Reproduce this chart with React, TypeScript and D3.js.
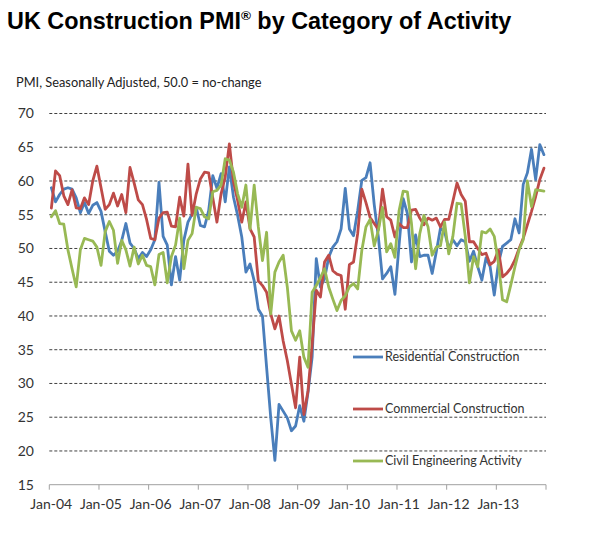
import React from "react";
import * as d3 from "d3";

const yearLabels = ["Jan-04","Jan-05","Jan-06","Jan-07","Jan-08","Jan-09","Jan-10","Jan-11","Jan-12","Jan-13"];
const yTicks = [15,20,25,30,35,40,45,50,55,60,65,70];

const residential = [
  59.0,56.9,58.0,58.8,59.0,58.8,57.5,55.3,56.8,55.2,56.4,56.8,
  55.5,52.5,49.6,49.0,49.6,51.2,53.7,50.8,50.0,48.5,49.4,48.8,
  49.8,51.3,59.8,51.8,50.5,44.6,48.8,45.3,51.2,53.9,55.1,56.1,
  53.4,53.2,55.6,60.8,58.9,61.1,56.9,62.1,57.6,54.9,51.7,46.5,
  47.7,45.2,41.0,40.0,32.4,24.9,18.6,26.9,25.9,24.9,23.0,23.7,
  26.7,24.4,28.7,33.9,48.5,44.3,45.5,48.7,50.2,51.0,52.9,58.9,
  52.9,51.9,55.6,60.1,60.5,62.7,56.5,51.7,45.5,46.3,47.3,43.2,
  50.5,57.4,55.2,48.0,52.0,48.8,49.0,49.0,46.3,49.5,53.0,52.5,
  50.0,51.3,50.4,51.3,51.0,48.1,49.6,47.3,45.3,48.6,47.3,43.1,
  47.8,50.3,50.8,51.3,54.4,52.3,59.5,61.2,64.7,60.2,65.4,63.9
];

const commercial = [
  56.0,61.5,60.8,57.8,56.5,58.7,56.0,55.9,57.5,56.5,60.0,62.2,
  59.0,55.8,56.5,58.2,56.3,58.0,55.3,62.0,59.7,57.2,56.5,54.3,
  51.5,51.3,54.5,55.3,55.4,53.3,53.2,57.6,54.8,62.5,54.9,58.1,
  60.3,61.3,61.2,57.5,53.9,58.1,60.6,65.5,59.9,57.1,53.9,56.9,
  52.9,51.7,45.2,44.5,43.5,40.3,38.1,40.0,36.3,33.4,29.9,26.4,
  33.9,25.4,28.9,35.8,43.8,42.8,48.0,49.0,46.7,46.2,46.0,41.0,
  47.6,48.0,52.2,58.8,56.8,54.6,53.7,52.8,58.8,54.7,54.2,51.7,
  53.7,53.1,53.1,55.7,55.8,54.5,53.5,54.5,54.2,54.5,53.2,54.3,
  54.3,57.0,59.7,58.0,57.0,51.0,51.0,50.0,49.1,49.3,47.6,48.1,
  49.8,45.8,46.3,47.1,48.3,50.0,51.5,53.5,55.5,57.7,60.2,61.9
];

const civil = [
  54.7,55.6,53.7,53.6,49.8,47.0,44.3,49.8,51.5,51.3,51.1,50.2,
  47.5,52.5,54.0,52.7,47.8,51.2,49.8,47.4,50.2,47.7,49.0,47.5,
  47.3,44.6,49.1,49.4,44.9,48.8,50.5,54.5,47.0,51.2,52.2,56.1,
  55.9,54.7,54.4,58.4,58.6,59.4,63.3,63.1,61.3,58.1,56.1,59.4,
  52.9,59.4,53.2,48.2,52.4,40.3,46.5,48.0,49.0,44.3,37.8,36.4,
  37.8,33.9,32.4,43.5,44.5,45.7,47.0,44.3,42.5,40.8,42.3,43.0,
  44.3,44.8,44.0,49.7,53.2,54.3,50.4,52.7,56.1,49.5,50.7,48.7,
  55.6,58.5,58.4,53.7,47.0,52.2,54.9,53.2,49.0,50.2,50.4,53.9,
  49.2,51.8,56.7,56.6,51.8,44.9,48.8,47.3,52.5,52.3,52.9,51.8,
  47.8,42.4,42.1,44.6,47.3,49.8,51.3,60.0,56.2,58.7,58.6,58.5
];

const seriesNames = ["Residential Construction", "Commercial Construction", "Civil Engineering Activity"];
const seriesColors = ["#4A7EBB", "#BE4B48", "#98B954"];
const seriesData = [residential, commercial, civil];

const W = 596, H = 542;
const left = 49.3, right = 546, top = 113.5, bottom = 484.7;

export default function App() {
  const x = d3.scaleLinear().domain([0, 120]).range([left, right]);
  const y = d3.scaleLinear().domain([15, 70]).range([bottom, top]);
  const line = d3.line<number>().x((_, i) => x(i + 0.5)).y(d => y(d));
  const labelFont = "Lato, 'Open Sans', sans-serif";
  const legendY = [357, 409, 461];

  return (
    <svg width={W} height={H} style={{ position: "absolute", left: 0, top: 0, background: "#fff" }}>
      <text x={7} y={29} fontFamily="'Liberation Sans', Arial, sans-serif" fontWeight="bold" fontSize={23.4} fill="#000">
        UK Construction PMI<tspan fontSize={13.5} dy={-9}>®</tspan><tspan dy={9}> by Category of Activity</tspan>
      </text>
      <text x={16} y={87} fontFamily={labelFont} fontSize={12.8} fill="#222">PMI, Seasonally Adjusted, 50.0 = no-change</text>

      {yTicks.filter(t => t > 15).map(t => (
        <line key={"g" + t} x1={left} x2={right} y1={y(t)} y2={y(t)} stroke="#404040" strokeWidth={1} strokeDasharray="3 2" />
      ))}
      {yTicks.map(t => (
        <text key={"yl" + t} x={34} y={y(t)} dy="0.35em" textAnchor="end" fontFamily={labelFont} fontSize={14} fill="#333">{t}</text>
      ))}

      <line x1={left} x2={right} y1={bottom} y2={bottom} stroke="#A0A0A0" strokeWidth={1} />
      {d3.range(0, 11).map(k => (
        <line key={"t" + k} x1={x(12 * k)} x2={x(12 * k)} y1={bottom} y2={bottom + 5} stroke="#A0A0A0" strokeWidth={1} />
      ))}
      {yearLabels.map((lab, k) => (
        <text key={lab} x={x(12 * k) + 2} y={509} textAnchor="middle" fontFamily={labelFont} fontSize={14} fill="#333">{lab}</text>
      ))}

      {seriesData.map((s, j) => (
        <path key={"s" + j} d={line(s) || ""} fill="none" stroke={seriesColors[j]} strokeWidth={2.8} strokeLinejoin="round" strokeLinecap="round" />
      ))}

      {seriesNames.map((n, j) => (
        <g key={n}>
          <line x1={353} x2={383} y1={legendY[j]} y2={legendY[j]} stroke={seriesColors[j]} strokeWidth={2.8} />
          <text x={385} y={legendY[j]} dy="0.35em" fontFamily={labelFont} fontSize={12.5} fill="#333">{n}</text>
        </g>
      ))}
    </svg>
  );
}
